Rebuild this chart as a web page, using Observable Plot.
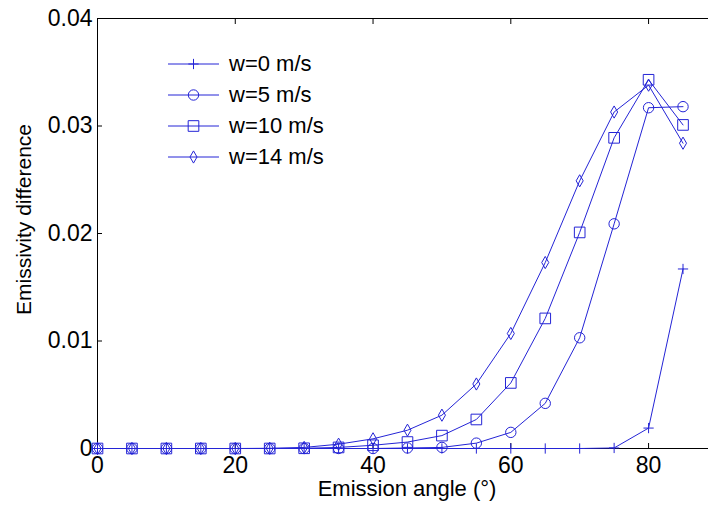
<!DOCTYPE html>
<html><head><meta charset="utf-8">
<script src="https://cdn.jsdelivr.net/npm/d3@7"></script>
<script src="https://cdn.jsdelivr.net/npm/@observablehq/plot@0.6"></script>
<style>
html,body{margin:0;padding:0;background:#fff;}
#wrap{position:relative;width:708px;height:506px;overflow:hidden;}
#legend{position:absolute;left:168px;top:48px;font-family:Arial,"Liberation Sans",sans-serif;font-size:22px;color:#000;}
.row{display:flex;align-items:center;height:31px;white-space:nowrap;}
.row svg{margin-right:10px;display:block;}
</style></head><body><div id="wrap"><div id="legend"></div></div>
<script>
const angles = [0,5,10,15,20,25,30,35,40,45,50,55,60,65,70,75,80,85];
const seriesNames = ["w=0 m/s","w=5 m/s","w=10 m/s","w=14 m/s"];
const seriesSymbols = ["plus","circle","square","diamond"];
const w0  = [0,0,0,0,0,0,0,0,0,0,0,0,0,0,0,0.00005,0.0019,0.0167];
const w5  = [0,0,0,0,0,0,0,0,0,0.00005,0.0001,0.0005,0.0015,0.0042,0.0103,0.0209,0.0317,0.0318];
const w10 = [0,0,0,0,0,0,0.00002,0.0001,0.0003,0.0006,0.0012,0.0027,0.0061,0.0121,0.0201,0.0289,0.0343,0.0301];
const w14 = [0,0,0,0,0,0.00002,0.0001,0.0004,0.0009,0.0017,0.0031,0.006,0.0107,0.0173,0.0249,0.0313,0.0338,0.0284];
const xTicks = [0,20,40,60,80];
const xTopTicks = [20,40,60,80];
const yTicks = [0,0.01,0.02,0.03,0.04];
const xLabel = "Emission angle (°)";
const yLabel = "Emissivity difference";

const BLUE = "#2424d6";
const symbolR = {plus:3.4, circle:5.2, square:6.0, diamond:3.7};
const allSeries = [w0,w5,w10,w14];
const font = 'Arial, "Liberation Sans", sans-serif';

const seriesMarks = [];
allSeries.forEach((vals, i) => {
  const data = angles.map((a, j) => ({x:a, y:vals[j]}));
  seriesMarks.push(Plot.line(data, {x:"x", y:"y", stroke:BLUE, strokeWidth:1}));
  seriesMarks.push(Plot.dot(data, {x:"x", y:"y", symbol:()=>seriesSymbols[i], r:symbolR[seriesSymbols[i]], stroke:BLUE, fill:"none", strokeWidth:1}));
});

const chart = Plot.plot({
  width:708, height:506,
  marginLeft:97, marginRight:0, marginTop:18, marginBottom:58,
  style:{fontFamily:font, fontSize:"23px", color:"#000", background:"#fff", overflow:"visible"},
  x:{domain:[0,88.7]},
  y:{domain:[0,0.04]},
  symbol:{type:"identity"},
  marks:[
    Plot.ruleY([0.04], {stroke:"#000", strokeWidth:1}),
    Plot.axisX({anchor:"top", ticks:xTopTicks, tickSize:-5, tickFormat:()=>"", label:null, stroke:"#000"}),
    Plot.axisX({anchor:"bottom", ticks:xTicks, tickSize:-5, tickPadding:13, label:null, tickFormat:d=>String(d), stroke:"#000"}),
    Plot.axisY({anchor:"left", ticks:yTicks, tickSize:-5, tickPadding:10, label:null, tickFormat:d=>d===0?"0":d3.format(".2f")(d), stroke:"#000"}),
    Plot.ruleX([0], {stroke:"#000"}),
    Plot.ruleY([0], {stroke:"#000"}),
    ...seriesMarks,
    Plot.text([xLabel], {frameAnchor:"bottom", textAnchor:"middle", dx:4, dy:47, text:d=>d, fontSize:22, fill:"#000"}),
    Plot.text([yLabel], {frameAnchor:"left", textAnchor:"middle", rotate:-90, dx:-73, dy:-14, text:d=>d, fontSize:21, fill:"#000"})
  ]
});
document.getElementById("wrap").prepend(chart);

// legend
const legend = d3.select("#legend");
const symMap = {plus:d3.symbolPlus, circle:d3.symbolCircle, square:d3.symbolSquare, diamond:d3.symbolDiamond};
seriesNames.forEach((name, i) => {
  const row = legend.append("div").attr("class","row");
  const svg = row.append("svg").attr("width",51).attr("height",20);
  svg.append("line").attr("x1",0).attr("x2",51).attr("y1",10).attr("y2",10).attr("stroke",BLUE).attr("stroke-width",1);
  const r = symbolR[seriesSymbols[i]];
  svg.append("path").attr("transform","translate(25.5,10)")
    .attr("d", d3.symbol(symMap[seriesSymbols[i]], Math.PI*r*r)())
    .attr("fill","none").attr("stroke",BLUE).attr("stroke-width",1);
  row.append("span").text(name);
});
</script>
</body></html>
